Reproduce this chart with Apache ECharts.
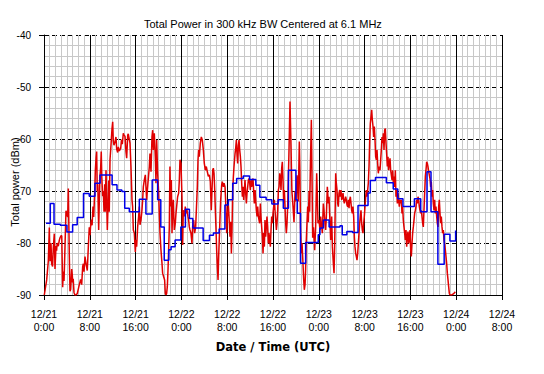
<!DOCTYPE html>
<html>
<head>
<meta charset="utf-8">
<script src="https://cdn.jsdelivr.net/npm/echarts@6/dist/echarts.min.js"></script>
<style>
html,body{margin:0;padding:0;background:#fff;}
#chart{width:544px;height:374px;}
</style>
</head>
<body>
<div id="chart"></div>
<script>
// Hours since 12/21 0:00 UTC, total power in dBm
var xTickLabels = ['12/21\n0:00','12/21\n8:00','12/21\n16:00','12/22\n0:00','12/22\n8:00','12/22\n16:00','12/23\n0:00','12/23\n8:00','12/23\n16:00','12/24\n0:00','12/24\n8:00'];

// Red: raw samples
var redDay1 = [[0.05,-90],[0.47,-87.1],[0.75,-83.5],[0.93,-77],[1.05,-83.5],[1.22,-80],[1.34,-84],[1.5,-84.5],[1.62,-81],[1.8,-78.2],[1.92,-85],[2.1,-80.6],[2.2,-81.5],[2.3,-80],[2.5,-80.6],[2.67,-79.5],[2.8,-79],[2.97,-78.6],[3.1,-78.6],[3.26,-88.5],[3.37,-85.5],[3.5,-87.3],[3.67,-80.6],[3.84,-73.8],[3.96,-73.8],[4.14,-75],[4.25,-69.5],[4.42,-82.4],[4.54,-89.3],[4.66,-88.9],[4.84,-85],[4.95,-86.3],[5.0,-87.6],[5.1,-86.9],[5.24,-89.5],[5.41,-90],[5.59,-90],[5.82,-89.7],[6.17,-88],[6.4,-87],[6.58,-88],[6.76,-84.5],[6.87,-84],[6.99,-85.5],[7.16,-82.6],[7.34,-84],[7.56,-85.3],[7.74,-80.8],[7.91,-77],[8.04,-78.5],
[8.12,-77],[8.27,-75.5],[8.4,-76.6],[8.56,-73],[8.68,-75],[8.86,-70],[8.97,-66],[9.1,-63.5],[9.2,-62.4],[9.3,-70],[9.4,-68.7],[9.55,-77.5],[9.66,-72],[9.78,-67],[9.9,-65.5],[10.0,-62.4],[10.1,-67.4],[10.25,-71],[10.36,-70],[10.48,-74],[10.6,-68.7],[10.7,-74],[10.83,-66],[10.95,-72],[11.06,-77.5],[11.18,-73],[11.3,-68],[11.4,-74],[11.53,-64],[11.7,-61.2],[11.88,-58],[12.0,-56.7],[12.1,-60.3],[12.22,-61.2],[12.4,-60.6],[12.57,-59.6],[12.7,-62.0],[12.87,-62.6],[12.98,-61.5],[13.15,-62.3],[13.4,-61.8],[13.54,-60.1],[13.68,-61.0],[13.85,-58.9],[13.97,-59.2],[14.15,-59.5],[14.32,-62.5],[14.44,-63.7],[14.62,-59.3],[14.72,-59.0],
[15.02,-60.8],[15.19,-65.3],[15.37,-71.7],[15.48,-73.0],[15.6,-77.5],[15.78,-78.1],[15.95,-81.7],[16.07,-79.4],[16.18,-80.7],[16.36,-76.9],[16.53,-74.9],[16.65,-73.0],[16.77,-76.5],[16.94,-75.6],[17.11,-73.7],[17.23,-71.7],[17.35,-69.2],[17.52,-67.9],[17.7,-66.9],[17.93,-71.7],[18.1,-69.2],[18.4,-65.3],[18.51,-62.8],[18.69,-66.3],[18.86,-59.6],[18.98,-58.3],[19.1,-62.1],[19.27,-58.9],[19.44,-63.4],[19.56,-68.5],[19.68,-60.2],[19.85,-66.6],[20.03,-70.4],[20.14,-74.3],[20.26,-78.1],[20.43,-81.3],[20.61,-83.9],[20.72,-85.8],[20.9,-86.5],[21.07,-87.1],[21.19,-89.7],[21.31,-90],[21.42,-89.7],[21.54,-88.4],[21.66,-85.2],[21.77,-81.3],[21.89,-76.9],[22.0,-65.3],[22.12,-73.0],[22.24,-67.9],[22.36,-78.1],[22.47,-73.7],[22.59,-71.7],[22.76,-77.5],[22.94,-76.2],[23.05,-74.3],[23.17,-73.0],[23.34,-71.1],[23.52,-70.4],[23.64,-67.9],[23.75,-64.0],[23.93,-64.7]];
var redDay2 = [[24.1,-71.1],[24.22,-80.4],[24.33,-73.7],[24.51,-74.9],[24.68,-73.0],[24.8,-74.3],[24.97,-73.7],[25.15,-74.9],[25.27,-75.6],[25.38,-76.9],[25.5,-77.5],[25.67,-78.1],[25.85,-80.1],[25.96,-76.9],[26.14,-75.6],[26.31,-78.1],[26.49,-76.9],[26.66,-72.4],[26.78,-69.2],[26.9,-64.0],[27.01,-62.1],[27.13,-63.4],[27.3,-60.8],[27.48,-59.6],[27.65,-60.2],[27.83,-62.1],[28.0,-64.7],[28.18,-66.0],[28.35,-65.3],[28.53,-66.3],[28.7,-67.2],[28.88,-66.9],[29.05,-68.2],[29.22,-73.7],
[29.47,-66.0],[29.58,-65.6],[29.7,-66.6],[29.82,-69.8],[29.93,-73.7],[30.05,-77.5],[30.16,-81.4],[30.28,-84.6],[30.4,-87.1],[30.51,-82.6],[30.63,-78.8],[30.75,-74.9],[30.86,-71.7],[31.04,-68.8],[31.15,-68.2],[31.33,-69.2],[31.45,-68.5],[31.62,-69.2],[31.8,-73.7],[31.91,-78.1],[32.03,-74.9],[32.2,-72.7],[32.38,-76.2],[32.49,-78.8],[32.61,-75.9],[32.73,-82.0],[32.84,-77.5],[32.96,-69.8],[33.08,-67.2],[33.19,-65.3],[33.37,-62.8],[33.48,-61.8],[33.6,-60.2],[33.72,-63.1],[33.83,-64.7],[33.95,-61.2],[34.07,-60.2],[34.18,-62.1],[34.3,-63.4],[34.41,-65.3],[34.53,-68.5],[34.65,-71.1],[34.76,-69.2],[34.88,-71.7],[35.0,-69.8],[35.11,-67.9],[35.23,-70.4],[35.35,-72.4],[35.46,-70.4],[35.58,-69.2],[35.7,-67.9],[35.81,-67.6],[35.93,-68.5],[36.04,-69.8],[36.16,-67.9],[36.28,-69.2],[36.39,-68.2],[36.51,-67.6],[36.63,-70.4],[36.74,-72.4],[36.86,-69.8],[36.98,-71.7],[37.09,-73.7],[37.21,-74.9],[37.33,-73.0],[37.44,-74.9],[37.56,-75.6],[37.67,-76.2],[37.79,-72.4],[37.9,-74.9],[38.02,-76.9],[38.14,-78.8],[38.26,-82.0],[38.37,-78.1],[38.49,-80.7],[38.6,-75.6],[38.72,-78.8],[38.84,-76.9],[38.95,-74.9],[39.07,-76.9],[39.19,-80.1],[39.3,-78.1],[39.42,-79.4],[39.54,-80.7],[39.65,-77.5],[39.77,-74.9],[39.89,-76.2],[40.0,-74.3],[40.12,-73.0],[40.24,-71.7],[40.35,-73.7],[40.47,-75.6],[40.59,-77.5],[40.7,-76.2],[40.82,-73.7],[40.94,-69.8],[41.05,-69.2],[41.17,-66.6],[41.29,-67.6],[41.4,-69.8],[41.52,-65.6],[41.63,-64.4],[41.75,-67.9],[41.87,-72.4],[41.98,-69.8],[42.1,-73.0],[42.21,-76.2],[42.33,-78.1],[42.45,-76.2],[42.56,-73.0],
[42.8,-62],[42.97,-52.8],[43.14,-61],[43.3,-70],[43.5,-73],[43.67,-76],[43.85,-70],[44.0,-72],[44.2,-67],[44.4,-72],[44.6,-60.5],[44.7,-66],[44.8,-77],[44.95,-82],[45.07,-80],[45.24,-84],[45.36,-87],[45.47,-89],[45.6,-88],[45.7,-85],[45.8,-80],[45.94,-76],[46.06,-73],[46.17,-76],[46.3,-70],[46.4,-74],[46.55,-64],[46.7,-56.3],[46.8,-66],[46.93,-79],[47.07,-77]];
var redDay3 = [[47.16,-78.8],[47.28,-81.4],[47.45,-76.9],[47.63,-66.6],[47.75,-71.1],[47.86,-76.2],[48.04,-75.6],[48.21,-77.5],[48.33,-74.9],[48.44,-76.2],[48.62,-78.1],[48.79,-72.4],[48.91,-73.7],[49.08,-76.2],[49.2,-77.5],[49.32,-74.9],[49.49,-69.2],[49.67,-72.4],[49.78,-71.1],[49.96,-76.2],[50.07,-79.4],[50.25,-74.9],[50.37,-80.7],[50.54,-83.9],[50.66,-85.8],[50.77,-80.7],[50.95,-66.6],[51.06,-68.5],[51.18,-69.8],[51.3,-72.4],[51.41,-73.0],[51.53,-70.4],[51.65,-69.8],[51.76,-71.1],[51.88,-69.8],[52.0,-71.7],[52.11,-71.1],[52.23,-70.4],[52.34,-71.7],[52.46,-72.4],[52.58,-71.7],[52.69,-71.1],[52.81,-71.7],[52.93,-72.7],[53.04,-73.0],[53.16,-71.7],[53.28,-73.3],[53.39,-71.7],[53.51,-71.1],[53.63,-72.4],[53.74,-73.7],[53.86,-74.3],[53.97,-73.0],[54.09,-74.9],[54.21,-78.8],[54.32,-80.7],[54.44,-82.0],[54.56,-82.6],[54.67,-83.3],[54.79,-82.0],[54.91,-80.1],[55.02,-78.1],[55.14,-76.2],[55.26,-74.9],[55.37,-73.7],[55.49,-76.2],[55.6,-77.5],[55.72,-78.1],[55.84,-76.2],[55.95,-74.9],[56.07,-73.0],[56.19,-71.1],[56.3,-69.8],[56.42,-71.1],[56.54,-69.8],[56.65,-68.5],[56.77,-65.3],[56.89,-60.2],[57.0,-57.0],[57.12,-55.7],[57.24,-54.4],[57.35,-56.3],[57.47,-57.6],[57.58,-59.6],[57.7,-57.6],[57.82,-60.2],[57.93,-63.4],[58.05,-64.0],[58.17,-62.1],[58.28,-64.7],[58.4,-66.6],[58.51,-65.3],
[58.69,-66.0],[58.81,-64.0],[58.92,-62.1],[59.04,-59.6],[59.16,-60.8],[59.27,-58.9],[59.39,-62.1],[59.5,-58.3],[59.62,-58.0],[59.74,-60.8],[59.85,-62.8],[59.97,-65.3],[60.09,-63.4],[60.2,-66.0],[60.32,-64.7],[60.44,-63.7],[60.55,-66.0],[60.79,-67.9],[60.9,-66.0],[61.02,-68.5],[61.13,-67.2],[61.25,-69.2],[61.37,-66.0],[61.48,-71.1],[61.6,-69.8],[61.72,-72.4],[61.83,-70.4],[61.95,-71.7],[62.07,-73.0],[62.18,-71.7],[62.3,-72.4],[62.42,-71.7],[62.53,-74.3],[62.65,-73.0],[62.76,-75.6],[62.88,-76.9],[63.0,-78.1],[63.11,-79.4],[63.23,-77.5],[63.35,-80.7],[63.46,-78.8],[63.58,-77.8],[63.7,-80.1],[63.81,-78.8],[63.93,-77.5],[64.05,-81.3],[64.16,-82.6],[64.28,-80.1],[64.39,-78.1],[64.51,-76.9],[64.63,-75.6],[64.74,-74.3],[64.86,-73.7],[64.98,-73.0],[65.09,-71.7],[65.21,-72.4],[65.33,-71.1],[65.44,-71.7],[65.56,-73.0],[65.68,-73.7],[65.79,-74.3],[65.91,-73.7],[66.02,-74.9],[66.14,-76.2],[66.26,-76.9],[66.37,-73.7],[66.49,-70.4],[66.61,-67.2],[66.72,-66.0],[66.84,-64.4],[66.96,-64.7],[67.07,-65.3],[67.19,-66.3],[67.3,-66.9],[67.42,-67.6],[67.54,-69.2],[67.65,-68.2],[67.77,-71.1],[67.89,-69.8],[68.0,-72.4],[68.12,-73.7],[68.24,-71.7],[68.35,-74.3],[68.47,-73.0],[68.59,-74.9],[68.7,-76.2],[68.82,-76.9],[68.94,-73.0],[69.05,-71.7],[69.17,-74.3],[69.29,-76.2],[69.4,-74.9],[69.52,-76.9],[69.63,-78.1],[69.75,-77.5],[69.87,-79.4],[69.98,-80.1],[70.1,-81.3],[70.22,-82.6],[70.33,-83.9],[70.45,-85.8],[70.57,-87.1],[70.68,-88.4],[70.8,-89.7],[70.92,-90],[71.2,-90],[71.5,-89.8],[71.85,-89.4]];

// Blue: smoothed level (step), each value holds until the next time mark
var blueHours = [0.35,1.1,1.75,2.85,4.0,5.0,5.8,6.9,7.9,8.9,9.8,11.9,12.75,13.6,14.1,14.9,16.65,17.8,18.9,19.85,20.4,21.0,21.8,22.2,22.9,23.9,24.7,25.4,26.0,27.8,28.9,29.6,30.6,31.6,32.2,32.96,33.65,34.8,35.9,37.0,37.7,38.8,39.8,40.9,41.8,42.7,44.0,44.25,44.8,45.7,47.9,48.2,48.8,49.8,51.7,52.1,52.9,53.9,54.85,56.6,57.0,57.9,59.8,61.0,61.8,62.7,64.7,65.8,66.9,67.6,68.8,69.9,70.9,71.9];
var blueDbm = [-76.2,-72.4,-76.4,-76.6,-77.9,-76.5,-75.1,-70.5,-71.0,-68.5,-66.9,-68.8,-69.8,-70.1,-73.3,-74.0,-71.6,-74.4,-67.9,-71.7,-76.9,-83.3,-81.3,-80.7,-79.4,-76.9,-73.5,-75.3,-77.1,-79.5,-78.5,-78.1,-77.3,-72.7,-71.7,-68.5,-67.6,-67.1,-67.8,-68.9,-71.2,-71.7,-72.5,-71.7,-73.3,-66.0,-71.7,-74.3,-83.9,-79.9,-78.4,-77.1,-75.6,-76.9,-76.7,-78.4,-77.8,-78.0,-72.8,-70.4,-68.0,-67.4,-68.4,-69.6,-71.5,-73.0,-71.5,-74.0,-66.3,-74.0,-84.1,-78.3,-79.6,-77.6];

var redData = redDay1.concat(redDay2, redDay3);
var blueData = blueHours.map(function (h, i) { return [h, blueDbm[i]]; });

var chart = echarts.init(document.getElementById('chart'), null, {renderer: 'svg'});
var font = '"Liberation Sans", Arial, sans-serif';
chart.setOption({
  animation: false,
  backgroundColor: '#fff',
  title: {
    text: 'Total Power in 300 kHz BW Centered at 6.1 MHz',
    left: 144, top: 18, padding: 0,
    textStyle: {fontFamily: font, fontSize: 11, fontWeight: 'normal', color: '#000'}
  },
  graphic: [{
    type: 'text', x: 15, y: 182, rotation: Math.PI / 2,
    style: {text: 'Total power (dBm)', fill: '#000', font: '11px "Liberation Sans", Arial, sans-serif', textAlign: 'center', textVerticalAlign: 'middle'}
  }],
  grid: {left: 44, right: 42, top: 35, bottom: 79, containLabel: false, outerBoundsMode: 'none'},
  xAxis: {
    type: 'value', min: 0, max: 80, interval: 8,
    name: 'Date / Time (UTC)', nameLocation: 'middle', nameGap: 46,
    nameTextStyle: {fontFamily: '"DejaVu Sans", sans-serif', fontSize: 11.5, fontWeight: 'bold', color: '#000'},
    axisLine: {show: true, lineStyle: {color: '#000', width: 1}},
    axisTick: {show: true, inside: false, length: 5, lineStyle: {color: '#000'}},
    axisLabel: {
      margin: 12, color: '#000', fontFamily: font, fontSize: 10.5, lineHeight: 13,
      formatter: function (v) { return xTickLabels[Math.round(v / 8)]; }
    },
    splitLine: {show: true, lineStyle: {color: '#000', width: 1, type: 'solid'}},
    minorTick: {show: false, splitNumber: 8},
    minorSplitLine: {show: true, lineStyle: {color: '#c8c8c8', width: 1}}
  },
  yAxis: {
    type: 'value', min: -90, max: -40, interval: 10,
    axisLine: {show: true, lineStyle: {color: '#000', width: 1}},
    axisTick: {show: true, inside: false, length: 5, lineStyle: {color: '#000'}},
    axisLabel: {margin: 13, color: '#000', fontFamily: font, fontSize: 10},
    splitLine: {show: true, lineStyle: {color: '#000', width: 1, type: [5, 3]}},
    minorTick: {show: false, splitNumber: 5},
    minorSplitLine: {show: true, lineStyle: {color: '#c8c8c8', width: 1}}
  },
  series: [
    {
      name: 'Power', type: 'line', data: redData, showSymbol: false, symbol: 'none',
      lineStyle: {color: '#e00000', width: 1.5}, z: 3
    },
    {
      name: 'Average', type: 'line', data: blueData, step: 'end', showSymbol: false, symbol: 'none',
      lineStyle: {color: '#0000e8', width: 1.5}, z: 4
    }
  ]
});
</script>
</body>
</html>
